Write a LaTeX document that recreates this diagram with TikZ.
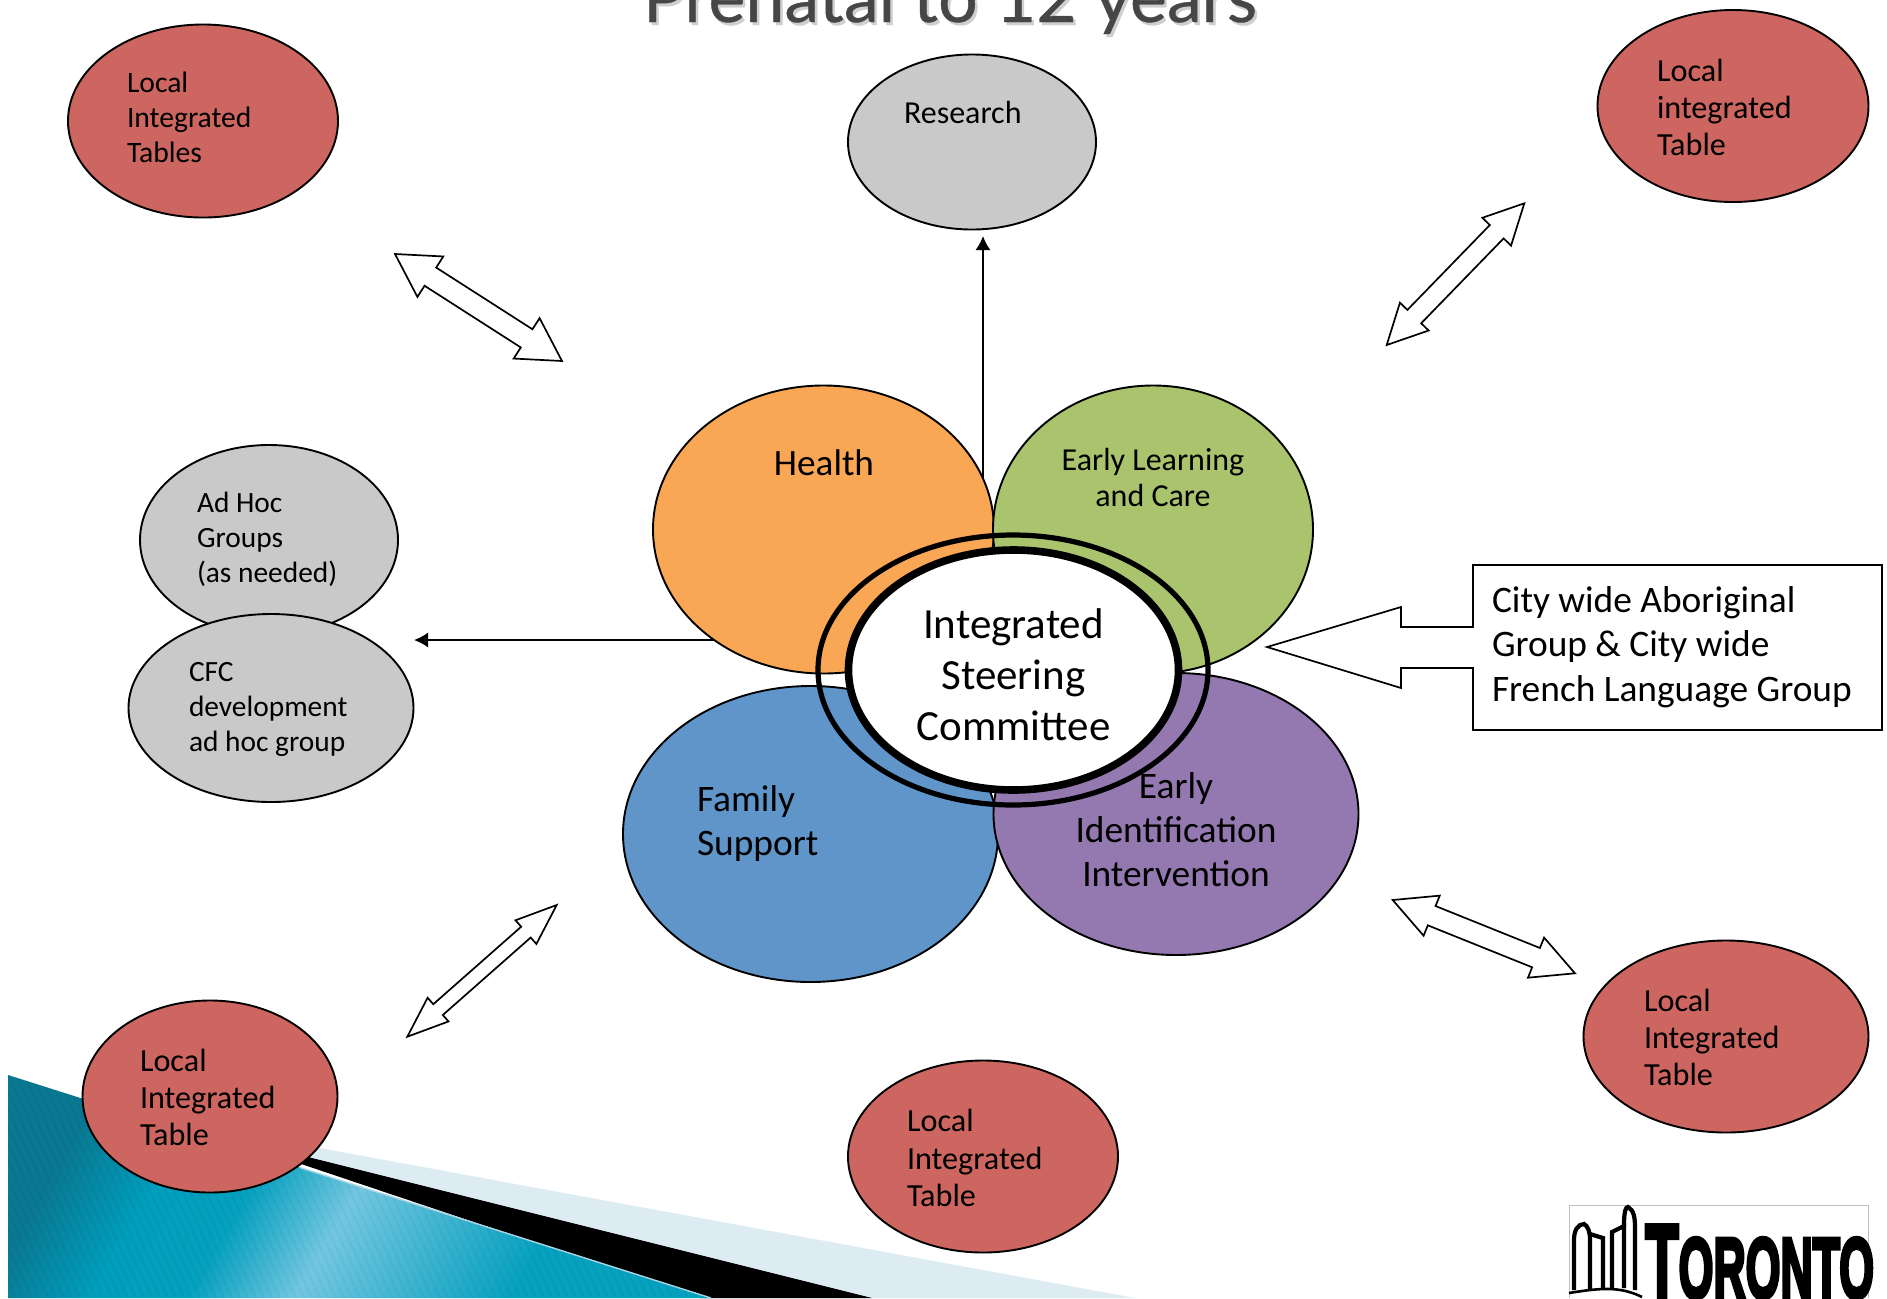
\documentclass[tikz,border=0pt]{standalone}
\usepackage{fontspec}
\setmainfont{Carlito}
\newfontfamily\titlefont[FakeBold=0.5]{Lato}
\newfontfamily\logofont[FakeBold=5]{Liberation Sans Bold}
\usetikzlibrary{shapes.geometric,calc,arrows.meta}
\definecolor{redell}{HTML}{CD6660}
\definecolor{grayell}{HTML}{C9C9C9}
\definecolor{orangeell}{HTML}{FAA755}
\definecolor{greenell}{HTML}{A9C46C}
\definecolor{blueell}{HTML}{6095C9}
\definecolor{purpleell}{HTML}{9379B0}
\definecolor{paleband}{HTML}{DDEBF3}
\definecolor{titlegray}{HTML}{464646}
\definecolor{titleshadow}{HTML}{CFCFCF}
\definecolor{edgeline}{HTML}{A9D4E2}
\pgfdeclarehorizontalshading{tealbar}{100bp}{rgb(0bp)=(0.04,0.47,0.57);
 rgb(24bp)=(0.04,0.47,0.57);rgb(33bp)=(0.0,0.62,0.74);rgb(41bp)=(0.02,0.63,0.75);rgb(50bp)=(0.45,0.78,0.88);rgb(68bp)=(0.02,0.63,0.75);rgb(100bp)=(0.02,0.63,0.75)}
\tikzset{
 ell/.style 2 args={ellipse,draw=black,line width=0.95pt,inner sep=0pt,outer sep=0pt,minimum width=#1pt,minimum height=#2pt},
 txt/.style n args={3}{inner sep=0pt,outer sep=0pt,align=#1,font=\fontsize{#2}{#3}\selectfont,text=black},
 darrow/.style={draw=black,line width=0.85pt,fill=white,line join=miter},
 thinarrow/.style={draw=black,line width=0.8pt,-{Latex[length=7pt,width=7.5pt]}},
 logoline/.style={draw=black,line width=2.1pt,line cap=butt}
}
% \dbl{tip}{tip}{head length}{head half width}{shaft half width}
\newcommand{\dbl}[5]{\draw[darrow] (#1)
 -- ($(#1)!#3pt!(#2)!#4pt!90:(#2)$) -- ($(#1)!#3pt!(#2)!#5pt!90:(#2)$)
 -- ($(#2)!#3pt!(#1)!#5pt!-90:(#1)$) -- ($(#2)!#3pt!(#1)!#4pt!-90:(#1)$)
 -- (#2)
 -- ($(#2)!#3pt!(#1)!#4pt!90:(#1)$) -- ($(#2)!#3pt!(#1)!#5pt!90:(#1)$)
 -- ($(#1)!#3pt!(#2)!#5pt!-90:(#2)$) -- ($(#1)!#3pt!(#2)!#4pt!-90:(#2)$) -- cycle;}
\begin{document}
\begin{tikzpicture}[x=0.5pt,y=-0.5pt]
\useasboundingbox (0,0) rectangle (1887,1298);
% bottom-left decoration
\fill[paleband] (200,1126) -- (1135,1298) -- (700,1298) -- cycle;
\fill[black] (200,1130) -- (872,1298) -- (700,1298) -- cycle;
\shade[shading=tealbar,shading angle=-30] (8,1075) -- (711,1298) -- (8,1298) -- cycle;
\begin{scope}
\clip (8,1075) -- (711,1298) -- (8,1298) -- cycle;
\foreach \i in {-14,...,90} \draw[black,opacity=0.035,line width=0.9pt] (\i*8,1075) -- (\i*8+104,1298);
\end{scope}
\draw[edgeline,line width=0.7pt] (300,1167.6) -- (711,1298);
% title
\node[anchor=base,inner sep=0pt,text=titleshadow,font=\titlefont\fontsize{35}{40}\selectfont] (titleshade) at (952.5,25) {Prenatal to 12 years};
\node[anchor=base,inner sep=0pt,text=titlegray,font=\titlefont\fontsize{35}{40}\selectfont] (title) at (950,22) {Prenatal to 12 years};
% connector end points
\coordinate (upstart) at (983,500);
\coordinate (upend) at (983,236);
\coordinate (leftstart) at (730,640);
\coordinate (leftend) at (414,640);
\draw[thinarrow] (upstart) -- (upend);
\draw[thinarrow] (leftstart) -- (leftend);
% outer ellipses
\node[ell={135}{96.5},fill=redell] (tl) at (203,121) {};
\node[ell={124}{87.5},fill=grayell] (research) at (972,142) {};
\node[ell={135.5}{96},fill=redell] (tr) at (1733,106) {};
\node[ell={129}{95},fill=grayell] (adhoc) at (269,540) {};
\node[ell={142.5}{94},fill=grayell] (cfc) at (271,708) {};
\node[ell={127.5}{96},fill=redell] (bl) at (210,1096.5) {};
\node[ell={135}{96},fill=redell] (bot) at (983,1156.5) {};
\node[ell={142.5}{96},fill=redell] (br) at (1726,1036.5) {};
% petals
\node[ell={170.5}{144},fill=orangeell] (health) at (823.5,529.5) {};
\node[ell={160}{144},fill=greenell] (learn) at (1153,529.5) {};
\node[ell={187.5}{148},fill=blueell] (family) at (810.5,834) {};
\node[ell={182.5}{141},fill=purpleell] (ident) at (1176,814) {};
% centre
\node[ellipse,draw=black,line width=2.6pt,inner sep=0pt,minimum width=195pt,minimum height=135pt] (ring) at (1013,670) {};
\node[ellipse,draw=black,fill=white,line width=3.8pt,inner sep=0pt,minimum width=165pt,minimum height=120pt] (core) at (1013.5,670) {};
% double arrows
\coordinate (a1) at (395,254); \coordinate (a2) at (562,361);
\coordinate (b1) at (1524.3,203.3); \coordinate (b2) at (1386.7,345);
\coordinate (c1) at (556.7,905); \coordinate (c2) at (407.3,1036.7);
\coordinate (d1) at (1392.7,900); \coordinate (d2) at (1575,973.3);
\dbl{a1}{a2}{21}{12}{5.4}
\dbl{b1}{b2}{19.8}{10}{4.8}
\dbl{c1}{c2}{20.5}{7.9}{3.6}
\dbl{d1}{d2}{21}{10.8}{5.2}
% callout
\draw[darrow] (1473,565) -- (1882,565) -- (1882,730) -- (1473,730) -- (1473,668) -- (1401,668) -- (1401,688) -- (1267,647) -- (1401,607) -- (1401,627) -- (1473,627) -- cycle;
% texts
\node[txt={left}{14.8}{17.6},anchor=west] (ttl) at (127,117.5) {Local\\Integrated\\Tables};
\node[txt={left}{16}{18},anchor=west] (tres) at (904,112) {Research};
\node[txt={left}{16.1}{18.6},anchor=west] (ttr) at (1657,107.5) {Local\\integrated\\Table};
\node[txt={left}{14.7}{17.5},anchor=west] (tadhoc) at (197,539.5) {Ad Hoc\\Groups\\(as needed)};
\node[txt={left}{14.7}{17.5},anchor=west] (tcfc) at (189,709) {CFC\\development\\ad hoc group};
\node[txt={center}{18.6}{22}] (thealth) at (824,463) {Health};
\node[txt={center}{16}{18}] (tlearn) at (1153,477) {Early Learning\\and Care};
\node[txt={center}{21.5}{25.5}] (tcore) at (1013.5,675) {Integrated\\Steering\\Committee};
\node[txt={left}{18.7}{22.3},anchor=west] (tfamily) at (697,823.5) {Family\\Support};
\node[txt={center}{18.7}{22}] (tident) at (1176,829.5) {Early\\Identification\\Intervention};
\node[txt={left}{18.7}{22.3},anchor=west] (tbox) at (1492,647) {City wide Aboriginal\\Group \& City wide\\French Language Group};
\node[txt={left}{16.1}{18.6},anchor=west] (tbl) at (140,1097.5) {Local\\Integrated\\Table};
\node[txt={left}{16.1}{18.6},anchor=west] (tbot) at (907,1158) {Local\\Integrated\\Table};
\node[txt={left}{16.1}{18.6},anchor=west] (tbr) at (1644,1037.5) {Local\\Integrated\\Table};
% logo
\draw[gray!50,line width=0.5pt] (1569,1298) -- (1569,1205) -- (1868,1205) -- (1868,1298);
\draw[logoline] (1574,1290) -- (1574,1240) .. controls (1574,1230) and (1578,1224) .. (1584,1224) .. controls (1588,1226) and (1590,1232) .. (1590,1240) -- (1590,1290);
\draw[logoline] (1590,1234) -- (1603,1238) -- (1603,1288);
\draw[logoline] (1612,1288) -- (1612,1232) -- (1624,1226) -- (1624,1288);
\draw[logoline] (1624,1226) .. controls (1624,1210) and (1626,1207) .. (1628,1207) .. controls (1634,1210) and (1635,1218) .. (1635,1228) -- (1635,1290);
\draw[black,line width=1.3pt] (1569,1293) .. controls (1600,1288) and (1620,1286) .. (1642,1297);
\node[anchor=base west,inner sep=0pt,text=black] (logo) at (1645,1298) {\scalebox{0.545}[1.05]{\logofont\fontsize{50}{50}\selectfont T\fontsize{41}{41}\selectfont ORONTO}};
\end{tikzpicture}
\end{document}
